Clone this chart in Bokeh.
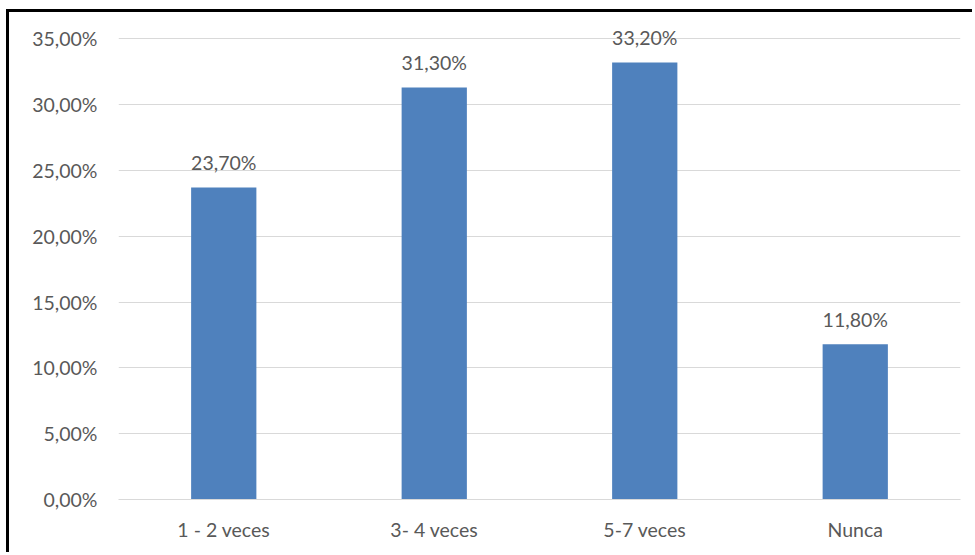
from bokeh.plotting import figure
from bokeh.models import ColumnDataSource, Range1d, FixedTicker, CustomJSTickFormatter
from bokeh.core.properties import value
from bokeh.embed import file_html
from bokeh.resources import INLINE

# Frequency categories and their shares (percent)
categories = ["1 - 2 veces", "3- 4 veces", "5-7 veces", "Nunca"]
shares = [23.7, 31.3, 33.2, 11.8]
y_ticks = [0, 5, 10, 15, 20, 25, 30, 35]

FONT = "Lato"
TEXT_COLOR = "#595959"
BAR_COLOR = "#4F81BD"
GRID_COLOR = "#d9d9d9"

labels = [f"{v:.2f}%".replace(".", ",") for v in shares]
source = ColumnDataSource(data=dict(cat=categories, share=shares, label=labels))

p = figure(
    x_range=categories,
    y_range=Range1d(0, 36.4),
    width=966,
    height=543,
    output_backend="svg",
    toolbar_location=None,
    min_border_left=109,
    min_border_right=15,
    min_border_top=8,
    min_border_bottom=56,
)
p.styles = {
    "margin-left": "6px",
    "margin-top": "9px",
    "border-left": "3px solid black",
    "border-top": "3px solid black",
}

p.vbar(x="cat", top="share", width=0.31, source=source,
       fill_color=BAR_COLOR, line_color=None)

p.text(x="cat", y="share", text="label", source=source,
       text_align="center", text_baseline="alphabetic", y_offset=-25,
       text_font=value(FONT), text_font_size="19.5px", text_color=TEXT_COLOR)

p.outline_line_color = None
p.background_fill_color = "white"
p.border_fill_color = "white"

# horizontal grid only
p.xgrid.grid_line_color = None
p.ygrid.grid_line_color = GRID_COLOR
p.ygrid.grid_line_width = 1

# y axis: percentages with comma decimals
p.yaxis.ticker = FixedTicker(ticks=y_ticks)
p.yaxis.formatter = CustomJSTickFormatter(
    code="return tick.toFixed(2).replace('.', ',') + '%';")
p.yaxis.axis_line_color = None
p.yaxis.major_tick_line_color = None
p.yaxis.minor_tick_line_color = None
p.yaxis.major_label_standoff = 15
p.yaxis.major_label_text_font = FONT
p.yaxis.major_label_text_font_size = "19.5px"
p.yaxis.major_label_text_color = TEXT_COLOR

# x axis: category names
p.xaxis.axis_line_color = GRID_COLOR
p.xaxis.major_tick_line_color = None
p.xaxis.minor_tick_line_color = None
p.xaxis.major_label_standoff = 12
p.xaxis.major_label_text_font = FONT
p.xaxis.major_label_text_font_size = "19.5px"
p.xaxis.major_label_text_color = TEXT_COLOR

open("out.html", "w").write(file_html(p, INLINE))
